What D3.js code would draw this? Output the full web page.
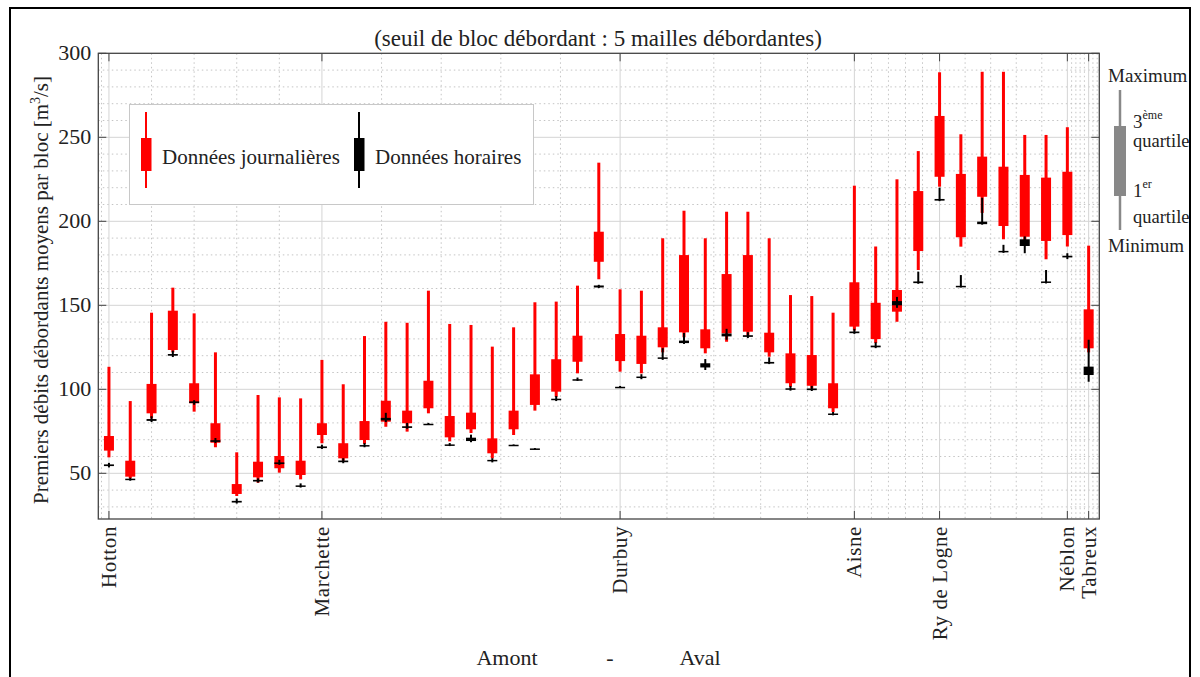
<!DOCTYPE html>
<html><head><meta charset="utf-8">
<script src="https://cdn.jsdelivr.net/npm/d3@7"></script>
<style>body{margin:0;background:#fff}svg text{font-family:"Liberation Serif","Times New Roman",serif;fill:#222}</style>
</head><body><svg id="c" width="1200" height="677"></svg>
<script>
// ---- data ----
const blocks = d3.range(47);
const dailyMin = [59.5,47,82.7,122,86.7,65.5,36.5,44.4,50.4,46.4,67.9,57.5,67.5,77.7,74.8,85.7,69,74,58.9,72.8,87.3,95.5,109.5,165.5,110.5,109.5,122,131,121.4,128.3,132,119.4,101.5,100.5,86.5,135,127.5,140.2,171,220.6,184.9,205,189.3,186,177.4,185,122];
const dailyQ1  = [63.5,48,85.7,123.4,91.7,68.2,37.7,47.6,53,49,72.8,58.9,69.8,80.7,79.8,88.7,71.4,76.2,61.9,76.2,90.7,98.6,116.4,175.9,116.8,115.1,125,133.9,124.4,133.3,134.3,122,103.6,102.1,88.7,137.3,129.9,146.2,182.3,226.5,190.5,214.6,197.2,190.8,188.3,191.8,124.4];
const dailyQ3  = [72.2,57.5,103.2,146.8,103.6,79.8,43.6,56.9,60.3,57.5,79.8,67.9,81.1,93.2,87.3,105.1,84.1,86.1,70.8,87.3,108.9,117.9,131.9,193.8,132.9,131.9,136.9,179.9,135.7,168.6,179.9,133.7,121.4,120.4,103.6,163.7,151.5,159.1,218,262.7,228.2,238.5,232.5,227.6,226,229.5,147.6];
const dailyMax = [113.4,93,145.6,160.5,145.2,122,62.5,96.6,95.2,94.6,117.5,103,131.7,140.2,139.6,158.7,138.9,138.3,125.4,136.9,151.8,152.2,161.7,234.9,159.5,158.7,189.9,206.3,189.9,205.7,205.7,189.9,156.1,155.5,145.6,221.2,185,225,241.8,288.7,251.8,289,289,251.4,251.4,256,185.5];
const hourlyMin = [53.5,45.6,80.5,119.2,90.8,68,32,44.5,55,41.5,64.5,56,65.5,80.5,76.5,78.8,66.2,68.5,56.5,66.5,64.2,93,105,160.3,100.8,106,117.5,127,111.5,129.5,130.5,115,99.2,99,84.5,133,124.5,148.5,162.8,212,160.6,198,181.2,181,163,177.5,104.5];
const hourlyQ1  = [54.3,46,81.2,120,91.8,68.7,32.6,45.1,55.5,42,65,56.6,66,81.5,77,79,66.5,69.2,57.2,66.7,64.4,93.6,105.2,160.6,101,106.7,118.2,127.5,113,131.5,131.2,115.3,99.7,99.5,84.8,133.4,125,150,163.2,212.3,160.8,198.3,181.5,185.3,163.3,178.5,108.5];
const hourlyQ3  = [55.3,46.8,82.3,121,92.8,69.7,33.6,46.1,56.5,42.8,66,57.6,66.8,83,78,79.5,67.2,71.2,58,67,64.8,94.4,106,161.8,101.5,107.6,119,129,115.5,133.2,132.2,116.3,100.6,100.5,85.6,134.4,126,152.5,164.2,213.3,161.6,199.8,182.4,189.3,164.2,179.5,113.5];
const hourlyMax = [56.2,47.4,84,123,93.5,71,35,47,58,44,67,59,68,86,80,80,68,73,59,67.2,65,96,107,162.2,102,109,124.5,133.5,118,136,134,119,102,102,86.5,136,128,155,170,220,168,214,186,191,171,181,129.5];
const stationNames = ["Hotton","Marchette","Durbuy","Aisne","Ry de Logne","Néblon","Tabreux"];
const stationIndex = [0,10,24,35,39,45,46];
const yTicks = [50,100,150,200,250,300];

// ---- scales ----
const svg = d3.select("#c");
const L=98.3, R=1099.3, T=53.3, B=519;
const x = d3.scaleLinear().domain([-0.5,46.5]).range([L,R]);
const y = d3.scaleLinear().domain([22.8,300]).range([B,T]);

// outer border
svg.append("rect").attr("x",10).attr("y",8).attr("width",1180).attr("height",690)
  .attr("fill","none").attr("stroke","#000").attr("stroke-width",2);

// minor grid
const g = svg.append("g");
const minorY = d3.range(30,300,10).filter(v=>v%50!==0);
g.selectAll(".my").data(minorY).join("line")
  .attr("x1",L).attr("x2",R).attr("y1",d=>y(d)).attr("y2",d=>y(d))
  .attr("stroke","#c4c4c4").attr("stroke-dasharray","1.5,3").attr("stroke-width",1);
let minorX=[];
for(let i=0;i<stationIndex.length-1;i++){
  const a=stationIndex[i], b=stationIndex[i+1];
  for(let k=1;k<5;k++) minorX.push(a+(b-a)*k/5);
}
minorX.push(46.2,46.4,-0.35);
g.selectAll(".mx").data(minorX).join("line")
  .attr("y1",T).attr("y2",B).attr("x1",d=>x(d)).attr("x2",d=>x(d))
  .attr("stroke","#c4c4c4").attr("stroke-dasharray","1.5,3").attr("stroke-width",1);
// major grid
g.selectAll(".gy").data(yTicks.filter(v=>v<300)).join("line")
  .attr("x1",L).attr("x2",R).attr("y1",d=>y(d)).attr("y2",d=>y(d))
  .attr("stroke","#d4d4d4").attr("stroke-width",1);
g.selectAll(".gx").data(stationIndex).join("line")
  .attr("y1",T).attr("y2",B).attr("x1",d=>x(d)).attr("x2",d=>x(d))
  .attr("stroke","#d4d4d4").attr("stroke-width",1);

// daily boxes (red)
const bw = 10;
const daily = svg.append("g");
daily.selectAll(".dw").data(blocks).join("line")
  .attr("x1",i=>x(i)).attr("x2",i=>x(i)).attr("y1",i=>y(dailyMin[i])).attr("y2",i=>y(dailyMax[i]))
  .attr("stroke","#ff0000").attr("stroke-width",3);
daily.selectAll(".db").data(blocks).join("rect")
  .attr("x",i=>x(i)-bw/2).attr("width",bw)
  .attr("y",i=>y(dailyQ3[i])).attr("height",i=>y(dailyQ1[i])-y(dailyQ3[i]))
  .attr("fill","#ff0000");
// hourly boxes (black)
const hourly = svg.append("g");
hourly.selectAll(".hw").data(blocks).join("line")
  .attr("x1",i=>x(i)).attr("x2",i=>x(i)).attr("y1",i=>y(hourlyMin[i])).attr("y2",i=>y(hourlyMax[i]))
  .attr("stroke","#000").attr("stroke-width",2);
hourly.selectAll(".hb").data(blocks).join("rect")
  .attr("x",i=>x(i)-bw/2).attr("width",bw)
  .attr("y",i=>y(hourlyQ3[i])).attr("height",i=>Math.max(1.5,y(hourlyQ1[i])-y(hourlyQ3[i])))
  .attr("fill","#000");

// frame + ticks
svg.append("rect").attr("x",L).attr("y",T).attr("width",R-L).attr("height",B-T)
  .attr("fill","none").attr("stroke","#444").attr("stroke-width",1.3);
const tk=8;
svg.append("g").selectAll("line").data(yTicks).join("line")
  .attr("x1",L).attr("x2",L+tk).attr("y1",d=>y(d)).attr("y2",d=>y(d)).attr("stroke","#444");
svg.append("g").selectAll("line").data(yTicks).join("line")
  .attr("x1",R).attr("x2",R-tk).attr("y1",d=>y(d)).attr("y2",d=>y(d)).attr("stroke","#444");
svg.append("g").selectAll("line").data(stationIndex).join("line")
  .attr("x1",d=>x(d)).attr("x2",d=>x(d)).attr("y1",B).attr("y2",B-tk).attr("stroke","#444");
svg.append("g").selectAll("line").data(stationIndex).join("line")
  .attr("x1",d=>x(d)).attr("x2",d=>x(d)).attr("y1",T).attr("y2",T+tk).attr("stroke","#444");

// y tick labels
svg.append("g").selectAll("text").data(yTicks).join("text")
  .attr("x",L-7).attr("y",d=>y(d)+7).attr("text-anchor","end")
  .attr("font-size",22).text(d=>d);

// x station labels
svg.append("g").selectAll("text").data(stationIndex).join("text")
  .attr("transform",(d,i)=>`translate(${x(d)+7},${B+7}) rotate(-90)`)
  .attr("text-anchor","end").attr("font-size",21).attr("letter-spacing",0.6)
  .text((d,i)=>stationNames[i]);

// title
svg.append("text").attr("x",598).attr("y",46).attr("text-anchor","middle").attr("font-size",23)
  .text("(seuil de bloc débordant : 5 mailles débordantes)");

// y label
const yl = svg.append("text").attr("transform","translate(48,290) rotate(-90)")
  .attr("text-anchor","middle").attr("font-size",21);
yl.append("tspan").text("Premiers débits débordants moyens par bloc [m");
yl.append("tspan").attr("dy",-8).attr("font-size",14).text("3");
yl.append("tspan").attr("dy",8).text("/s]");

// Amont - Aval
svg.append("text").attr("x",507).attr("y",665).attr("text-anchor","middle").attr("font-size",22).text("Amont");
svg.append("text").attr("x",610).attr("y",665).attr("text-anchor","middle").attr("font-size",22).text("-");
svg.append("text").attr("x",700).attr("y",665).attr("text-anchor","middle").attr("font-size",22).text("Aval");

// legend
const lg = svg.append("g");
lg.append("rect").attr("x",129.5).attr("y",104.5).attr("width",404).attr("height",100)
  .attr("fill","#fff").attr("stroke","#c8c8c8");
lg.append("line").attr("x1",146).attr("x2",146).attr("y1",112).attr("y2",188).attr("stroke","#ff0000").attr("stroke-width",2);
lg.append("rect").attr("x",141).attr("y",138).attr("width",10.5).attr("height",33).attr("fill","#ff0000");
lg.append("text").attr("x",162).attr("y",164).attr("font-size",21).text("Données journalières");
lg.append("line").attr("x1",359).attr("x2",359).attr("y1",112).attr("y2",188).attr("stroke","#000").attr("stroke-width",2);
lg.append("rect").attr("x",354).attr("y",138).attr("width",10.5).attr("height",33).attr("fill","#000");
lg.append("text").attr("x",375).attr("y",164).attr("font-size",21).text("Données horaires");

// explanatory key on the right
const k = svg.append("g");
k.append("line").attr("x1",1120).attr("x2",1120).attr("y1",90).attr("y2",230).attr("stroke","#888").attr("stroke-width",2.5);
k.append("rect").attr("x",1114).attr("y",126).attr("width",12).attr("height",70).attr("fill","#888");
k.append("text").attr("x",1108).attr("y",82).attr("font-size",19).text("Maximum");
k.append("text").attr("x",1108).attr("y",252).attr("font-size",19).text("Minimum");
const t3 = k.append("text").attr("x",1133).attr("y",128).attr("font-size",19);
t3.append("tspan").text("3");
t3.append("tspan").attr("dy",-9).attr("font-size",12).text("ème");
k.append("text").attr("x",1133).attr("y",147).attr("font-size",18.5).text("quartile");
const t1 = k.append("text").attr("x",1133).attr("y",197).attr("font-size",19);
t1.append("tspan").text("1");
t1.append("tspan").attr("dy",-9).attr("font-size",12).text("er");
k.append("text").attr("x",1133).attr("y",223).attr("font-size",18.5).text("quartile");
</script></body></html>
